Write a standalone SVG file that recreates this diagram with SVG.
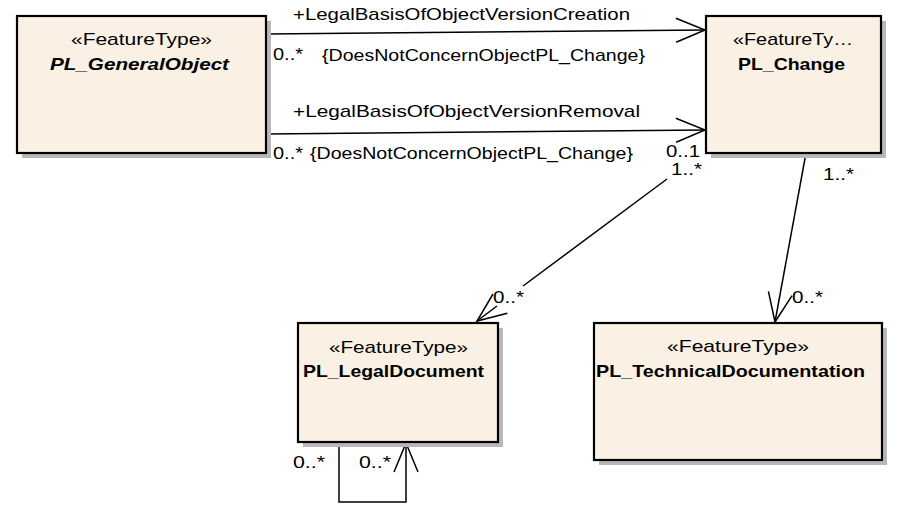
<svg xmlns="http://www.w3.org/2000/svg" width="898" height="517" viewBox="0 0 898 517">
<style>
text{font-family:"Liberation Sans",Arial,sans-serif;font-size:17px;fill:#000}
.name{font-weight:bold}
.it{font-style:italic}
.box{fill:#FAF0E4;stroke:#000;stroke-width:2.2}
.shadow{fill:#B8B8B8}
.ln{fill:none;stroke:#000;stroke-width:1.5}
</style>
<defs>
<marker id="open" markerUnits="userSpaceOnUse" markerWidth="40" markerHeight="40" viewBox="-35 -20 40 40" refX="0" refY="0" orient="auto" overflow="visible">
<path d="M-29,-12 L0,0 L-29,12" fill="none" stroke="#000" stroke-width="1.5"/>
</marker>
</defs>
<rect width="898" height="517" fill="#fff"/>
<g id="connectors">
<path class="ln" d="M266,34 L705,30" marker-end="url(#open)"/>
<path class="ln" d="M266,134 L705,130" marker-end="url(#open)"/>
<path class="ln" d="M667,179 L523,286"/>
<path class="ln" d="M497,306 L477,321" marker-end="url(#open)"/>
<path class="ln" d="M806,153 L775,322" marker-end="url(#open)"/>
<path class="ln" d="M339,443 V502 H406 V443" marker-end="url(#open)"/>
<text x="293" y="20" textLength="337" lengthAdjust="spacingAndGlyphs">+LegalBasisOfObjectVersionCreation</text>
<text x="273" y="60" textLength="30" lengthAdjust="spacingAndGlyphs">0..*</text>
<text x="322" y="61" textLength="323" lengthAdjust="spacingAndGlyphs">{DoesNotConcernObjectPL_Change}</text>
<text x="293" y="117" textLength="347" lengthAdjust="spacingAndGlyphs">+LegalBasisOfObjectVersionRemoval</text>
<text x="273" y="159" textLength="30" lengthAdjust="spacingAndGlyphs">0..*</text>
<text x="310" y="159" textLength="323" lengthAdjust="spacingAndGlyphs">{DoesNotConcernObjectPL_Change}</text>
<text x="666" y="157" textLength="34" lengthAdjust="spacingAndGlyphs">0..1</text>
<text x="671" y="175" textLength="31" lengthAdjust="spacingAndGlyphs">1..*</text>
<text x="823" y="180" textLength="31" lengthAdjust="spacingAndGlyphs">1..*</text>
<text x="493" y="303" textLength="31" lengthAdjust="spacingAndGlyphs">0..*</text>
<text x="792" y="303" textLength="31" lengthAdjust="spacingAndGlyphs">0..*</text>
<text x="293" y="468" textLength="32" lengthAdjust="spacingAndGlyphs">0..*</text>
<text x="359" y="468" textLength="32" lengthAdjust="spacingAndGlyphs">0..*</text>
</g>
<g id="PL_GeneralObject">
<rect class="shadow" x="22" y="21" width="249" height="137"/>
<rect class="box" x="17" y="16" width="249" height="137"/>
<text x="71" y="45" textLength="141" lengthAdjust="spacingAndGlyphs">«FeatureType»</text>
<text class="name it" x="50" y="70" textLength="179" lengthAdjust="spacingAndGlyphs">PL_GeneralObject</text>
</g>
<g id="PL_Change">
<rect class="shadow" x="711" y="21" width="175" height="137"/>
<rect class="box" x="706" y="16" width="175" height="137"/>
<text x="733" y="45" textLength="120" lengthAdjust="spacingAndGlyphs">«FeatureTy…</text>
<text class="name" x="738" y="70" textLength="107" lengthAdjust="spacingAndGlyphs">PL_Change</text>
</g>
<g id="PL_LegalDocument">
<rect class="shadow" x="303" y="328" width="200" height="119"/>
<rect class="box" x="298" y="323" width="200" height="119"/>
<text x="329" y="353" textLength="139" lengthAdjust="spacingAndGlyphs">«FeatureType»</text>
<text class="name" x="303" y="377" textLength="181" lengthAdjust="spacingAndGlyphs">PL_LegalDocument</text>
</g>
<g id="PL_TechnicalDocumentation">
<rect class="shadow" x="599" y="328" width="288" height="137"/>
<rect class="box" x="594" y="323" width="288" height="137"/>
<text x="667" y="352" textLength="142" lengthAdjust="spacingAndGlyphs">«FeatureType»</text>
<text class="name" x="596" y="377" textLength="269" lengthAdjust="spacingAndGlyphs">PL_TechnicalDocumentation</text>
</g>
</svg>
